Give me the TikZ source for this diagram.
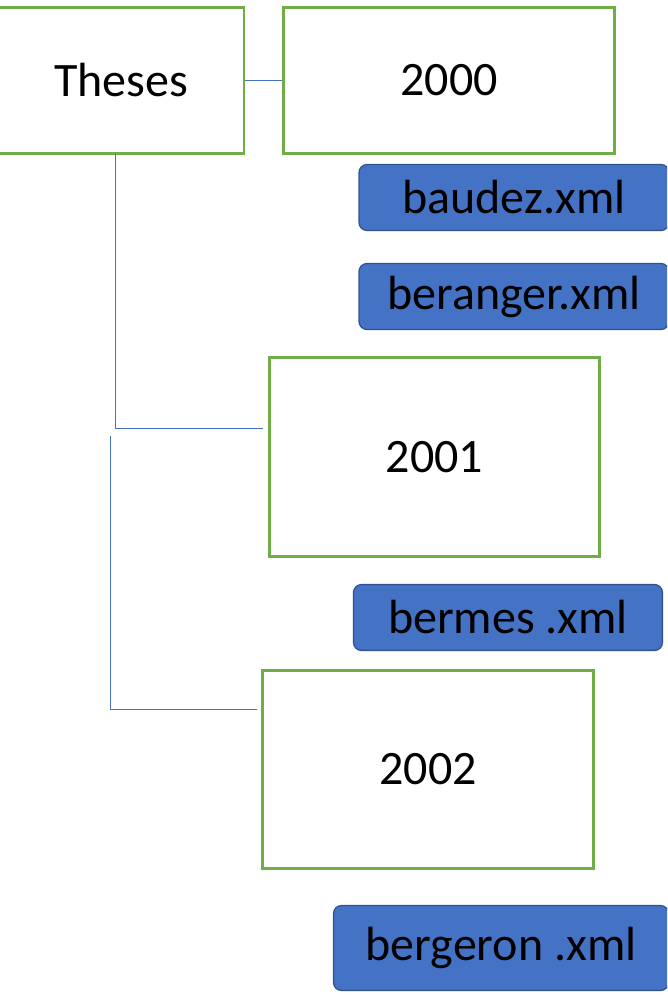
\documentclass[tikz,border=0pt]{standalone}
\usepackage{fontspec}
\setmainfont{Carlito}
\definecolor{boxgreen}{HTML}{70AD47}
\definecolor{fileblue}{HTML}{4472C4}
\definecolor{fileedge}{HTML}{2F528F}
\definecolor{linkblue}{HTML}{4472C4}
\begin{document}
\begin{tikzpicture}[x=1pt,y=-1pt,
  yearbox/.style={draw=boxgreen,line width=2.4pt,fill=white,rectangle,inner sep=0pt,
    font=\fontsize{48}{57}\selectfont},
  filebox/.style={draw=fileedge,line width=1.2pt,fill=fileblue,rectangle,rounded corners=8pt,
    inner sep=0pt,font=\fontsize{48}{57}\selectfont},
  link/.style={draw=linkblue,line width=0.9pt}]
\useasboundingbox (0,0) rectangle (667,995);
\clip (0,0) rectangle (667,995);
\fill[white] (0,0) rectangle (667,995);
\node[yearbox,minimum width=246pt,minimum height=146pt] (theses) at (121,80.5) {Theses};
\node[yearbox,minimum width=331pt,minimum height=146pt] (y2000) at (449,80.5) {2000};
\node[filebox,minimum width=310pt,minimum height=66pt] (baudez) at (514,197.5) {baudez.xml};
\node[filebox,minimum width=310pt,minimum height=66pt] (beranger) at (514,296.5) {beranger.xml};
\node[yearbox,minimum width=330pt,minimum height=199pt] (y2001) at (434.5,457) {2001};
\node[filebox,minimum width=309pt,minimum height=66pt] (bermes) at (508,617.5) {bermes .xml};
\node[yearbox,minimum width=331pt,minimum height=198pt] (y2002) at (428,769.5) {2002};
\node[filebox,minimum width=335pt,minimum height=85pt] (bergeron) at (501,948) {bergeron .xml};
\coordinate (c1top) at (115,154);
\coordinate (c1end) at (263,428);
\coordinate (c2top) at (110,436);
\coordinate (c2end) at (257,709);
\draw[link] (theses.east) -- (y2000.west);
\draw[link] (c1top) |- (c1end);
\draw[link] (c2top) |- (c2end);
\end{tikzpicture}
\end{document}
